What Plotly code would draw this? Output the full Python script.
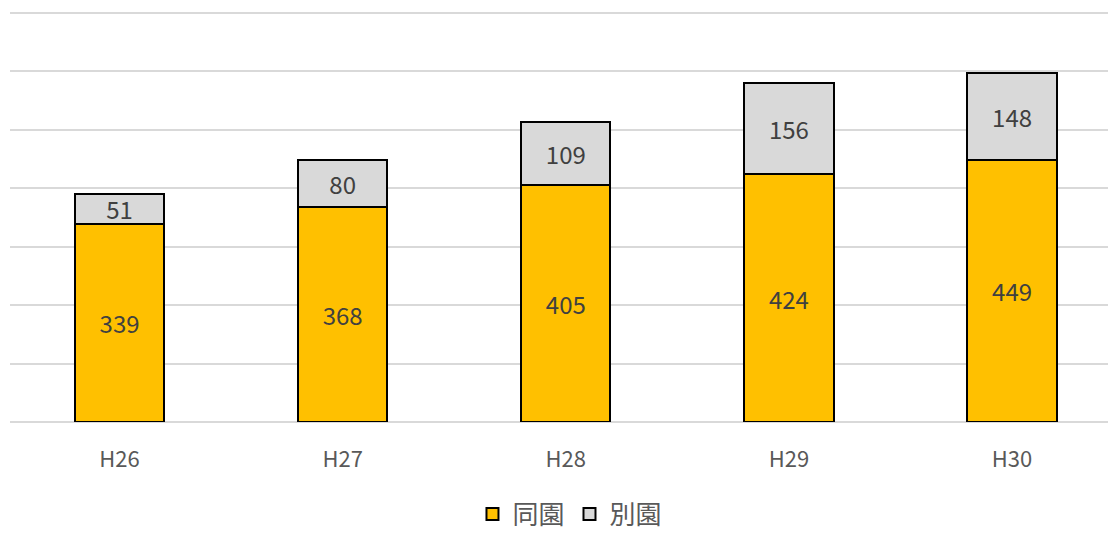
import plotly.graph_objects as go

categories = ["H26", "H27", "H28", "H29", "H30"]
same = [339, 368, 405, 424, 449]
other = [51, 80, 109, 156, 148]
series_names = ["同園", "別園"]

fnt = "Noto Sans CJK JP, Open Sans, sans-serif"
H = 535
top = 12
bottom_px = 422
dom0 = (H - bottom_px) / (H - top)

fig = go.Figure()
fig.add_trace(go.Bar(x=list(range(5)), y=same, name=series_names[0], text=same,
                     textposition="inside", insidetextanchor="middle", textangle=0,
                     constraintext="none",
                     marker=dict(color="#FFC000", line=dict(color="#000000", width=2)),
                     textfont=dict(size=24, color="#404040", family=fnt), width=0.4))
fig.add_trace(go.Bar(x=list(range(5)), y=other, name=series_names[1], text=other,
                     textposition="inside", insidetextanchor="middle", textangle=0,
                     constraintext="none",
                     marker=dict(color="#D9D9D9", line=dict(color="#000000", width=2)),
                     textfont=dict(size=24, color="#404040", family=fnt), width=0.4))
fig.update_layout(
    barmode="stack", width=1110, height=H,
    margin=dict(l=10, r=2, t=top, b=0, autoexpand=False),
    plot_bgcolor="white", paper_bgcolor="white",
    font=dict(family=fnt, color="#595959"),
    legend=dict(orientation="h", x=0.51, xanchor="center",
                y=(H - 514) / (H - top), yanchor="middle",
                font=dict(size=26, color="#595959"), traceorder="normal", itemwidth=30),
    showlegend=True,
)
fig.add_shape(type="line", xref="paper", yref="y", x0=0, x1=1, y0=700, y1=700,
              line=dict(color="#D9D9D9", width=2), layer="below")
fig.update_xaxes(tickvals=list(range(5)), ticktext=categories, range=[-0.491, 4.43],
                 tickfont=dict(size=22, color="#595959"), ticklabelstandoff=22,
                 showline=False, showgrid=False)
fig.update_yaxes(range=[0, 701.5], dtick=100, showticklabels=False, showgrid=True,
                 domain=[dom0, 1],
                 gridcolor="#D9D9D9", gridwidth=2, zeroline=True, zerolinecolor="#D9D9D9",
                 zerolinewidth=2)
fig.write_html("out.html")
